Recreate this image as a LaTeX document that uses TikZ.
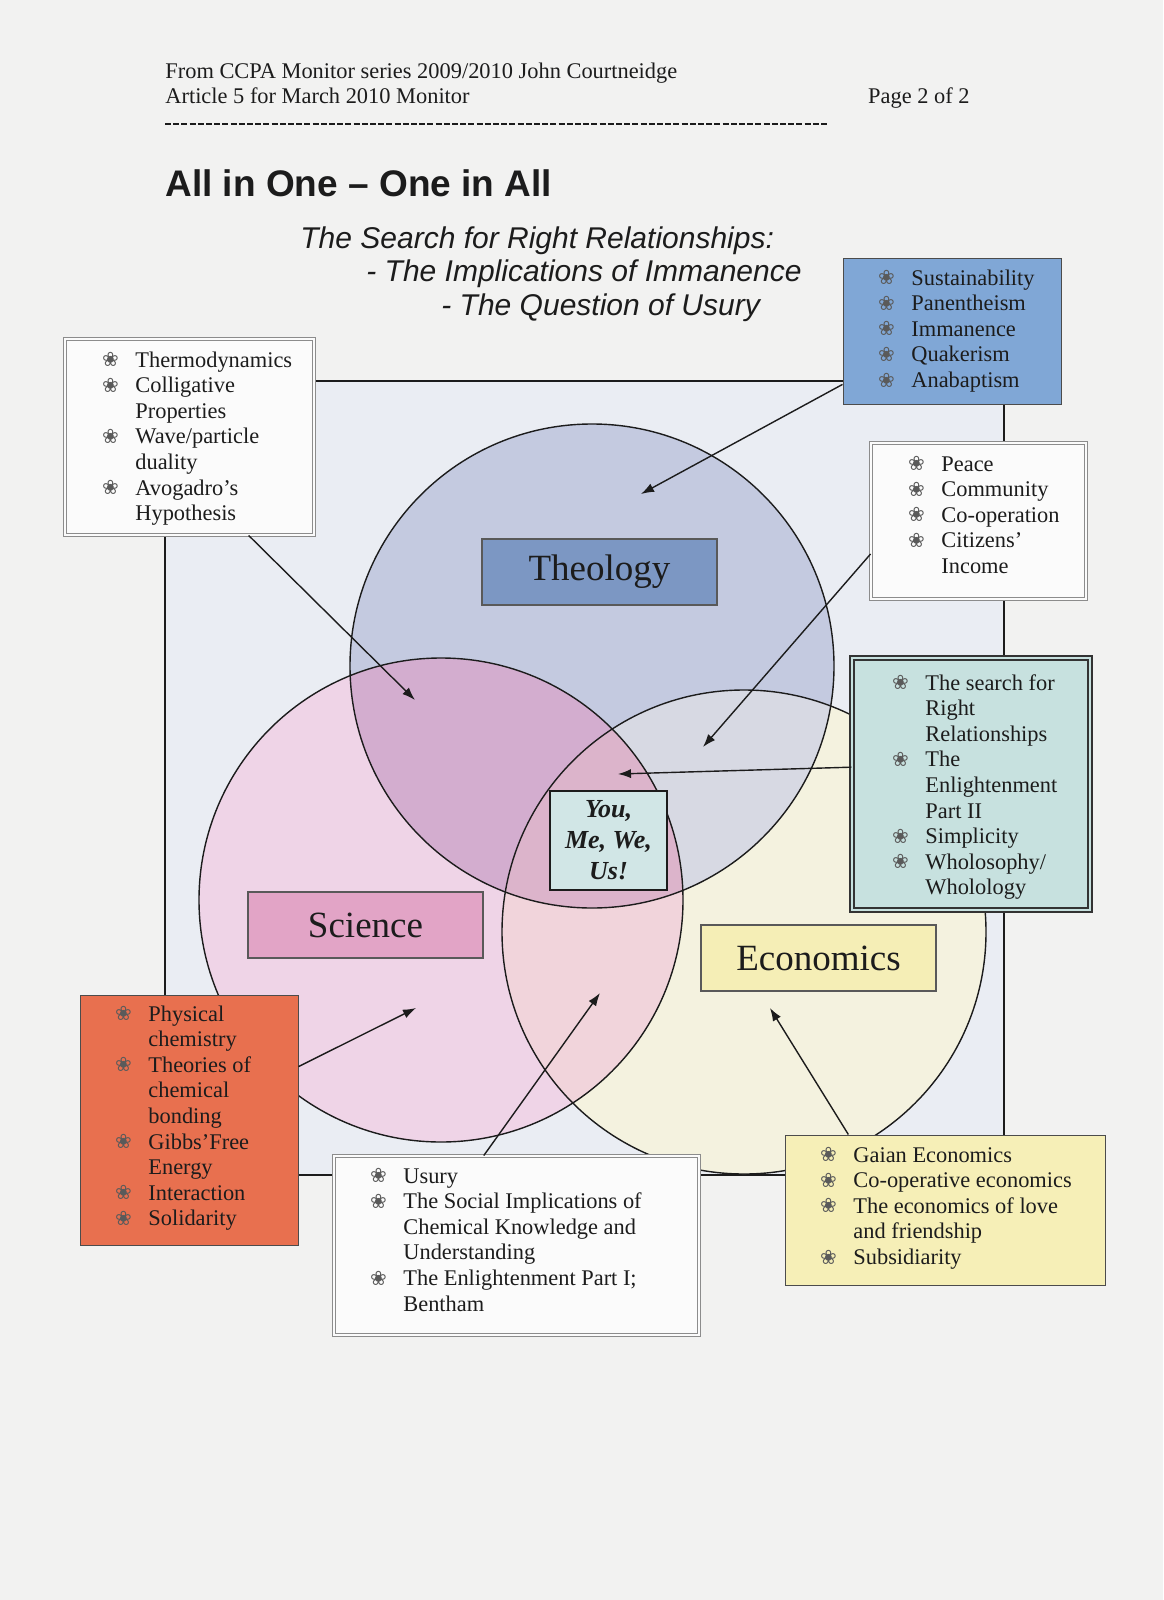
\documentclass[tikz,border=0pt]{standalone}
\usepackage{fontspec}
\setmainfont{Liberation Serif}
\newfontfamily\arialf{Liberation Sans}
\newfontfamily\dejavuf{DejaVu Sans}
\usetikzlibrary{arrows.meta}
\definecolor{pagecol}{HTML}{F2F2F1}
\definecolor{framecol}{HTML}{EAEDF3}
\definecolor{theoC}{HTML}{C4CAE0}
\definecolor{sciC}{HTML}{EFD4E7}
\definecolor{ecoC}{HTML}{F4F2DF}
\definecolor{tsC}{HTML}{D3ADCF}
\definecolor{teC}{HTML}{D7D9E3}
\definecolor{seC}{HTML}{F1D4DB}
\definecolor{tseC}{HTML}{DCB4CB}
\definecolor{theoL}{HTML}{7C97C3}
\definecolor{sciL}{HTML}{E2A4C6}
\definecolor{ecoL}{HTML}{F5EEB6}
\definecolor{youC}{HTML}{D1E6E6}
\definecolor{blueB}{HTML}{80A7D6}
\definecolor{tealB}{HTML}{C7E1DF}
\definecolor{orangeB}{HTML}{E8704F}
\definecolor{yellowB}{HTML}{F6EFB7}
\definecolor{whiteB}{HTML}{FBFBFB}
\definecolor{bulcol}{HTML}{5A5A5A}
\definecolor{inkcol}{HTML}{1C1C1C}
\newcommand\bul{\makebox[16pt][l]{\hspace*{-0.6pt}\raisebox{0.2pt}{\textcolor{bulcol}{\dejavuf\fontsize{10}{10}\selectfont ❀}}}}
\newcommand\nob{\hspace*{16pt}}
\newcommand\blist[1]{{\fontsize{11.2}{12.8}\selectfont\begin{tabular}[t]{@{}l@{}}#1\end{tabular}}}
\tikzset{
  shp/.style={rectangle, inner sep=0pt},
  plainbox/.style={shp, draw=black!70, line width=0.5pt},
  dblbox/.style={shp, draw=black!45, double=whiteB, double distance=1.4pt, line width=0.45pt},
  labelbox/.style={shp, draw=black!65, line width=0.6pt, minimum width=117.5pt, minimum height=33pt, font=\fontsize{18.5}{20}\selectfont, text=inkcol},
  listtext/.style={anchor=base west, inner sep=0pt, text=inkcol},
  arr/.style={draw=inkcol, line width=0.7pt, -{Latex[length=6.5pt,width=4.6pt]}},
  circ/.style={draw=inkcol, line width=0.7pt}
}
\begin{document}
\begin{tikzpicture}[x=0.5pt,y=-0.5pt]
\useasboundingbox (0,0) rectangle (1163,1600);
\fill[pagecol] (0,0) rectangle (1163,1600);

% header
\node[anchor=base west, inner sep=0pt, text=inkcol, font=\fontsize{11.2}{13}\selectfont] (h1) at (165,79) {From CCPA Monitor series 2009/2010 John Courtneidge};
\node[anchor=base west, inner sep=0pt, text=inkcol, font=\fontsize{11.2}{13}\selectfont] (h2) at (165,104) {Article 5 for March 2010 Monitor};
\node[anchor=base east, inner sep=0pt, text=inkcol, font=\fontsize{11.2}{13}\selectfont] (pg) at (970,104) {Page 2 of 2};
\coordinate (dl1) at (165,124);
\coordinate (dl2) at (828,124);
\draw[inkcol, line width=0.75pt, dash pattern=on 3pt off 1.1pt] (dl1) -- (dl2);
\node[anchor=base west, inner sep=0pt, text=inkcol, font=\arialf\bfseries\fontsize{18.5}{20}\selectfont] (title) at (165,196) {All in One – One in All};
\node[anchor=base west, inner sep=0pt, text=inkcol, font=\arialf\itshape\fontsize{15}{17}\selectfont] (sub1) at (300,248) {The Search for Right Relationships:};
\node[anchor=base west, inner sep=0pt, text=inkcol, font=\arialf\itshape\fontsize{15}{17}\selectfont] (sub2) at (366,281) {- The Implications of Immanence};
\node[anchor=base west, inner sep=0pt, text=inkcol, font=\arialf\itshape\fontsize{15}{17}\selectfont] (sub3) at (441,315) {- The Question of Usury};

% frame
\draw[fill=framecol, draw=inkcol, line width=0.75pt] (165,381) rectangle (1004,1175);

% circles
\fill[ecoC] (744,932) circle[radius=242];
\fill[sciC] (441,900) circle[radius=242];
\fill[theoC] (592,666) circle[radius=242];
\begin{scope}
  \clip (744,932) circle[radius=242];
  \fill[seC] (441,900) circle[radius=242];
\end{scope}
\begin{scope}
  \clip (592,666) circle[radius=242];
  \fill[tsC] (441,900) circle[radius=242];
  \fill[teC] (744,932) circle[radius=242];
  \clip (441,900) circle[radius=242];
  \fill[tseC] (744,932) circle[radius=242];
\end{scope}
\draw[circ] (744,932) circle[radius=242];
\draw[circ] (441,900) circle[radius=242];
\draw[circ] (592,666) circle[radius=242];

% circle labels
\node[labelbox, fill=theoL] (theo) at (599.5,572) {Theology};
\node[labelbox, fill=sciL] (sci) at (365.5,925) {Science};
\node[labelbox, fill=ecoL] (eco) at (818.5,958) {Economics};
\node[shp, draw=inkcol, line width=1.3pt, fill=youC, minimum width=58.5pt, minimum height=49.5pt, align=center, text=inkcol, font=\bfseries\itshape\fontsize{13}{15.5}\selectfont] (you) at (608.5,840.5) {You,\\Me, We,\\Us!};

% callout boxes
\node[dblbox, fill=whiteB, minimum width=124.5pt, minimum height=98pt] (thermo) at (189.5,437) {};
\node[plainbox, fill=blueB, minimum width=109pt, minimum height=73pt] (blue) at (952,331) {};
\node[dblbox, fill=whiteB, minimum width=107.5pt, minimum height=78pt] (peace) at (978.5,521) {};
\node[shp, draw=black!80, double=tealB, double distance=1.3pt, line width=0.7pt, fill=tealB, minimum width=119pt, minimum height=126pt] (teal) at (971,784) {};
\node[plainbox, fill=orangeB, minimum width=109pt, minimum height=125pt] (orange) at (189,1120) {};
\node[dblbox, fill=whiteB, minimum width=182.5pt, minimum height=89.5pt] (usury) at (516.5,1245.5) {};
\node[plainbox, fill=yellowB, minimum width=160pt, minimum height=75pt] (yellow) at (945,1210) {};

% list texts
\node[listtext] (thermoT) at (103,367) {\blist{\bul Thermodynamics\\ \bul Colligative\\ \nob Properties\\ \bul Wave/particle\\ \nob duality\\ \bul Avogadro’s\\ \nob Hypothesis}};
\node[listtext] (blueT) at (879,285) {\blist{\bul Sustainability\\ \bul Panentheism\\ \bul Immanence\\ \bul Quakerism\\ \bul Anabaptism}};
\node[listtext] (peaceT) at (909,471) {\blist{\bul Peace\\ \bul Community\\ \bul Co-operation\\ \bul Citizens’\\ \nob Income}};
\node[listtext] (tealT) at (893,690) {\blist{\bul The search for\\ \nob Right\\ \nob Relationships\\ \bul The\\ \nob Enlightenment\\ \nob Part II\\ \bul Simplicity\\ \bul Wholosophy/\\ \nob Wholology}};
\node[listtext] (orangeT) at (116,1021) {\blist{\bul Physical\\ \nob chemistry\\ \bul Theories of\\ \nob chemical\\ \nob bonding\\ \bul Gibbs’Free\\ \nob Energy\\ \bul Interaction\\ \bul Solidarity}};
\node[listtext] (usuryT) at (371,1183) {\blist{\bul Usury\\ \bul The Social Implications of\\ \nob Chemical Knowledge and\\ \nob Understanding\\ \bul The Enlightenment Part I;\\ \nob Bentham}};
\node[listtext] (yellowT) at (821,1162) {\blist{\bul Gaian Economics\\ \bul Co-operative economics\\ \bul The economics of love\\ \nob and friendship\\ \bul Subsidiarity}};

% arrow targets
\coordinate (tBlue) at (641,494);
\coordinate (tThermo) at (415,700);
\coordinate (tPeace) at (703,747);
\coordinate (tTeal) at (618,774);
\coordinate (tOrange) at (416,1008);
\coordinate (tUsury) at (600,993);
\coordinate (tYellow) at (770,1008);

% arrows
\draw[arr] (blue.206.8) -- (tBlue);
\draw[arr] (thermo.301.6) -- (tThermo);
\draw[arr] (peace.197.9) -- (tPeace);
\draw[arr] (teal.172.9) -- (tTeal);
\draw[arr] (orange.26.4) -- (tOrange);
\draw[arr] (usury.110.1) -- (tUsury);
\draw[arr] (yellow.142) -- (tYellow);
\end{tikzpicture}
\end{document}
